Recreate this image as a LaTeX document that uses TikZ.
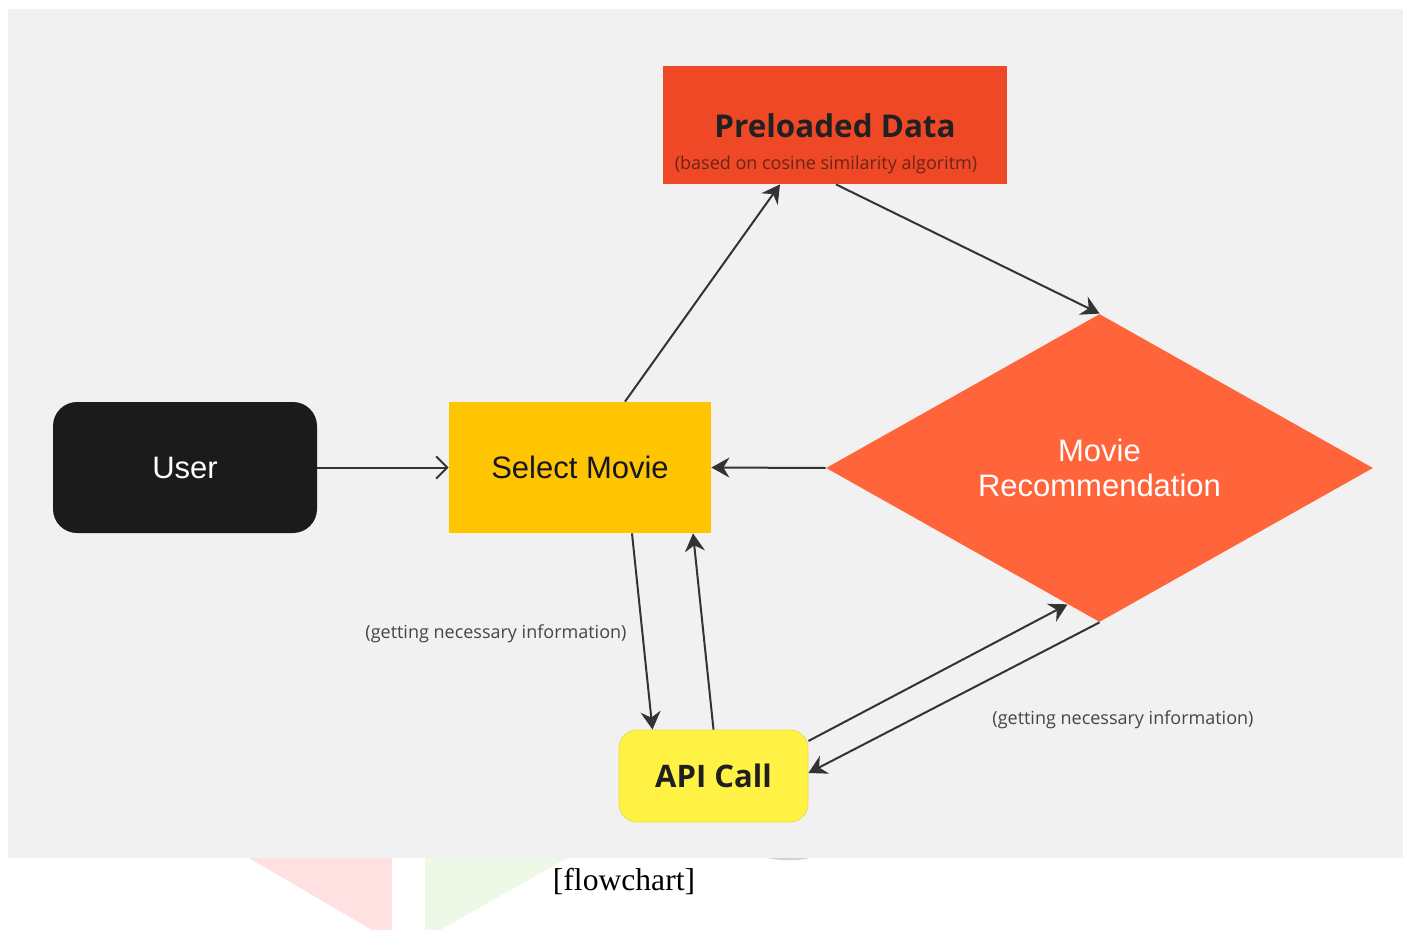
\documentclass[tikz,border=0pt]{standalone}
\usepackage{fontspec}
\setmainfont{Liberation Serif}
\newfontfamily\arialfont{Liberation Sans}
\newfontfamily\opensans{Open Sans}
\usetikzlibrary{shapes.geometric,arrows.meta,calc}

\definecolor{canvas}{HTML}{F1F1F1}
\definecolor{userfill}{HTML}{1B1B1B}
\definecolor{selfill}{HTML}{FFC500}
\definecolor{prefill}{HTML}{EF4826}
\definecolor{recfill}{HTML}{FF643B}
\definecolor{apifill}{HTML}{FFF244}
\definecolor{apiedge}{HTML}{EADB50}
\definecolor{ink}{HTML}{333333}
\definecolor{note}{HTML}{454545}
\definecolor{subnote}{HTML}{6A2515}
\definecolor{navytext}{HTML}{15152A}
\definecolor{wmred}{HTML}{FFE1E1}
\definecolor{wmgreen}{HTML}{EEF8E6}

\tikzset{
  box/.style={inner sep=0pt, align=center},
  flow/.style={draw=ink, line width=1pt, -{Stealth[length=9pt,width=10pt,inset=3pt]}},
  openflow/.style={draw=ink, line width=1pt, -{Straight Barb[length=5.5pt,width=11pt,line width=1pt]}},
  infotext/.style={font=\opensans\fontsize{9}{11}\selectfont, text=note, inner sep=0pt}
}

\begin{document}
\begin{tikzpicture}[x=0.5pt,y=-0.5pt]
  \useasboundingbox (0,0) rectangle (1406,930);

  % page background and the grey diagram canvas
  \fill[white] (0,0) rectangle (1406,930);
  \fill[wmred] (249,858) -- (392,858) -- (392,930) -- (372,930) -- cycle;
  \fill[wmgreen] (425,858) -- (567,858) -- (440,930) -- (425,930) -- cycle;
  \fill[black!18] (768,858) .. controls (780,861) and (798,861) .. (810,858) -- cycle;
  \fill[canvas] (8,9) rectangle (1403,858);

  % nodes
  \node[box, fill=userfill, rounded corners=12pt, minimum width=132pt, minimum height=65.5pt,
        text=white, font=\arialfont\fontsize{15.5}{18}\selectfont] (user) at (185,467.5) {User};
  \node[box, fill=selfill, minimum width=131pt, minimum height=65.5pt,
        text=navytext, font=\arialfont\fontsize{15.5}{18}\selectfont] (sel) at (580,467.5) {Select Movie};
  \node[box, fill=prefill, minimum width=172pt, minimum height=59pt] (pre) at (835,125) {};
  \node[font=\opensans\bfseries\fontsize{15.7}{19}\selectfont, text=black!87, inner sep=0pt] (pretitle) at (835,126) {Preloaded Data};
  \node[font=\opensans\fontsize{9}{11}\selectfont, text=subnote, inner sep=0pt] (presub) at (826,165) {(based on cosine similarity algoritm)};
  \node[box, shape=diamond, aspect=1.776, fill=recfill, minimum width=273.5pt, minimum height=154pt,
        text=white, font=\arialfont\fontsize{15.5}{17.5}\selectfont] (rec) at (1099.5,468) {Movie\\Recommendation};
  \node[box, fill=apifill, draw=apiedge, line width=0.4pt, rounded corners=9pt, minimum width=94.5pt, minimum height=46pt,
        text=black!88, font=\opensans\bfseries\fontsize{15.5}{18}\selectfont] (api) at (713.5,776) {API Call};

  % connectors
  \draw[openflow] (user.east) -- (sel.west);
  \draw[flow] (rec.west) -- (sel.east);
  \draw[flow] ([xshift=22.5pt]sel.north) -- ([xshift=-27.5pt]pre.south);
  \draw[flow] ([xshift=0.5pt]pre.south) -- (rec.north);
  \draw[flow] ([xshift=26pt]sel.south) -- ([xshift=-30.5pt]api.north);
  \draw[flow] (api.north) -- ([xshift=56.5pt]sel.south);
  \draw[flow] ([yshift=17.5pt]api.east) -- ($(rec.south)!0.117!(rec.west)$);
  \draw[flow] (rec.south) -- ([yshift=1.5pt]api.east);

  % connector notes
  \node[infotext] (note1) at (496,634) {(getting necessary information)};
  \node[infotext] (note2) at (1123,720) {(getting necessary information)};

  % caption
  \node[font=\fontsize{15.8}{19}\selectfont, inner sep=0pt] (caption) at (624,881) {[flowchart]};
\end{tikzpicture}
\end{document}
